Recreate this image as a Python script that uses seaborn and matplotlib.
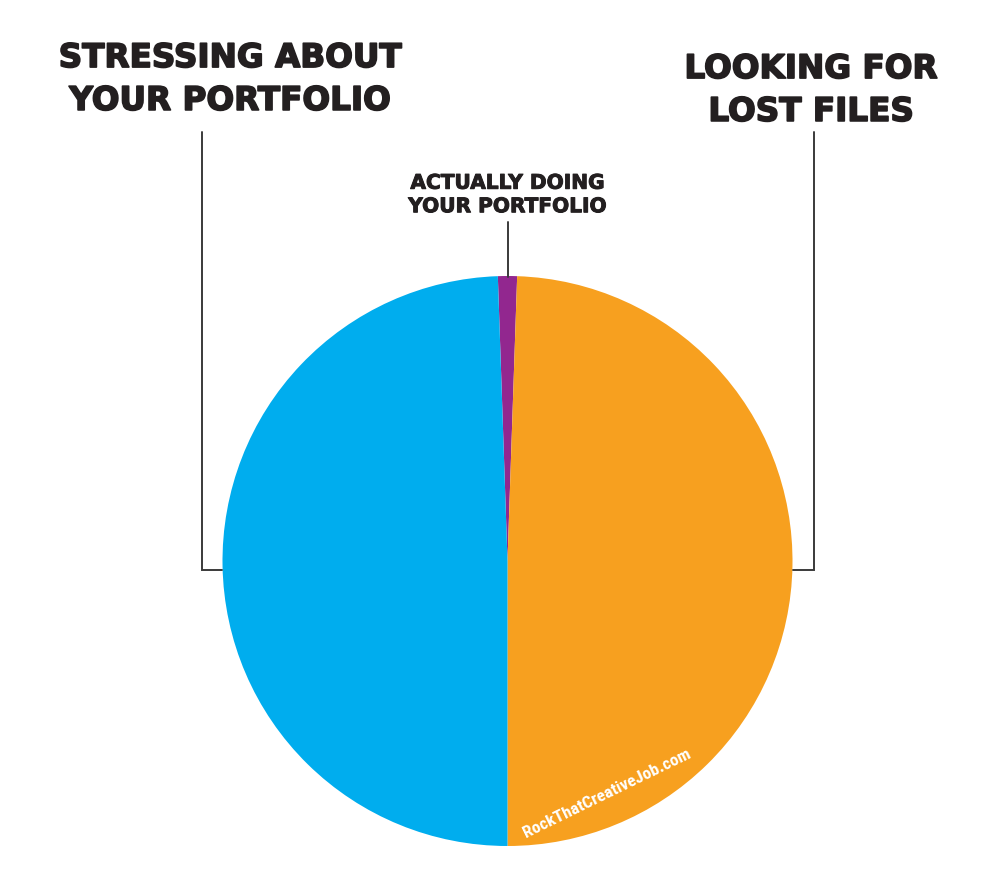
import matplotlib
matplotlib.use("Agg")
import matplotlib.pyplot as plt
import matplotlib.patheffects as pe
import seaborn as sns

sns.set_theme(style="white")
plt.rcParams['font.family'] = ['DejaVu Sans']

# Data
categories = ["ACTUALLY DOING\nYOUR PORTFOLIO", "LOOKING FOR\nLOST FILES", "STRESSING ABOUT\nYOUR PORTFOLIO"]
values = [1.08, 49.46, 49.46]
colors = ["#92278F", "#F7A01F", "#00ADEE"]
watermark = "RockThatCreativeJob.com"

W, H = 994, 881
fig = plt.figure(figsize=(W / 100, H / 100), dpi=100)
ax = fig.add_axes([0, 0, 1, 1])

cx, cy, r = 507.5, H - 561, 285
start = 90 + values[0] / 100 * 360 / 2
ax.pie(values, colors=colors, startangle=start, counterclock=False,
       center=(cx, cy), radius=r, frame=True,
       wedgeprops=dict(linewidth=0))
ax.set_xlim(0, W)
ax.set_ylim(0, H)
ax.set_aspect("equal")
ax.axis("off")

def Y(y):
    return H - y

lc = "#3a3a3a"
lw = 1.4
# leader lines
ax.plot([202, 202, 222], [Y(132), Y(570), Y(570)], color=lc, lw=lw, solid_joinstyle="miter")
ax.plot([814, 814, 793], [Y(132), Y(570), Y(570)], color=lc, lw=lw, solid_joinstyle="miter")
ax.plot([507.5, 507.5], [Y(222), Y(277)], color=lc, lw=lw)

tc = "#231F20"
heavy = [pe.withStroke(linewidth=1.2, foreground=tc)]
heavy_s = [pe.withStroke(linewidth=0.7, foreground=tc)]
ax.text(230, Y(79), categories[2], ha="center", va="center", fontsize=23.5,
        fontweight="bold", color=tc, linespacing=1.38, path_effects=heavy)
ax.text(811, Y(90), categories[1], ha="center", va="center", fontsize=23.5,
        fontweight="bold", color=tc, linespacing=1.38, path_effects=heavy)
ax.text(507.5, Y(195), categories[0], ha="center", va="center", fontsize=14.5,
        fontweight="bold", color=tc, linespacing=1.3, path_effects=heavy_s)

ax.text(607, Y(793), watermark, ha="center", va="center", fontsize=12.5,
        fontweight="bold", color="white", rotation=26,
        family=["Roboto Condensed", "DejaVu Sans"])

fig.savefig("out.png", dpi=100)
